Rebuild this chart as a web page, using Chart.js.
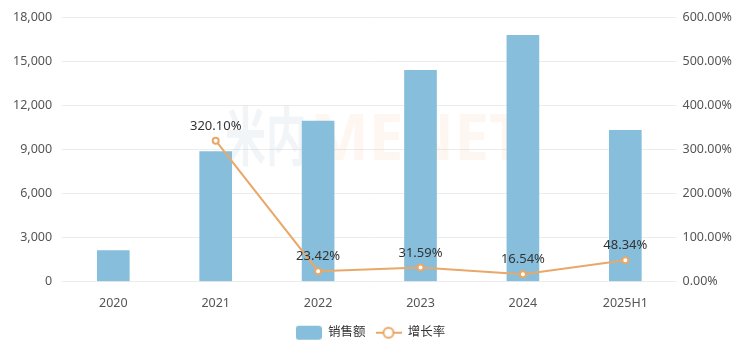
<!DOCTYPE html>
<html>
<head>
<meta charset="utf-8">
<script src="https://cdn.jsdelivr.net/npm/chart.js@4"></script>
<style>
  html, body { margin: 0; padding: 0; background: #fff; }
  #wrap { width: 751px; height: 354px; position: relative; }
</style>
</head>
<body>
<div id="wrap"><canvas id="myChart"></canvas></div>
<script>
// 数据
const years = ['2020', '2021', '2022', '2023', '2024', '2025H1'];
const sales = [2110, 8865, 10940, 14395, 16776, 10300];
const growth = [null, 320.10, 23.42, 31.59, 16.54, 48.34];
const leftTicks = [0, 3000, 6000, 9000, 12000, 15000, 18000];
const rightTicks = [0, 100, 200, 300, 400, 500, 600];

const barColor = '#86bedb';
const lineColor = '#e9a867';
const font = '"Noto Sans", "Noto Sans CJK SC", sans-serif';

// 图例图标
function makeIcon(type) {
    const c = document.createElement('canvas');
    c.width = 26; c.height = 16;
    const g = c.getContext('2d');
    if (type === 'bar') {
        g.fillStyle = barColor;
        g.beginPath();
        g.roundRect(0, 1, 26, 14, 3);
        g.fill();
    } else {
        g.strokeStyle = lineColor;
        g.lineWidth = 2;
        g.beginPath();
        g.moveTo(0, 8); g.lineTo(26, 8);
        g.stroke();
        g.fillStyle = '#fff';
        g.beginPath();
        g.arc(13, 8, 5, 0, Math.PI * 2);
        g.fill();
        g.stroke();
    }
    return c;
}

// 数据标签 + 水印
const extras = {
    id: 'extras',
    beforeDatasetsDraw(chart) {
        const ctx = chart.ctx;
        ctx.save();
        ctx.font = 'bold 64px ' + font;
        ctx.textBaseline = 'middle';
        ctx.textAlign = 'left';
        ctx.fillStyle = 'rgba(140,175,195,0.12)';
        ctx.fillText('米内', 225, 142, 82);
        ctx.fillStyle = 'rgba(245,170,120,0.1)';
        ctx.fillText('MENET', 310, 142, 215);
        ctx.restore();
    },
    afterDatasetsDraw(chart) {
        const ctx = chart.ctx;
        const meta = chart.getDatasetMeta(1);
        ctx.save();
        ctx.font = '13px ' + font;
        ctx.fillStyle = '#333';
        ctx.textAlign = 'center';
        ctx.textBaseline = 'bottom';
        meta.data.forEach((pt, i) => {
            if (growth[i] == null) return;
            ctx.fillText(growth[i].toFixed(2) + '%', pt.x, pt.y - 8);
        });
        ctx.restore();
    }
};

const ctx = document.getElementById('myChart').getContext('2d');
const myChart = new Chart(ctx, {
    type: 'bar',
    data: {
        labels: years,
        datasets: [{
            type: 'bar',
            label: '销售额',
            data: sales,
            backgroundColor: barColor,
            barThickness: 32,
            yAxisID: 'y',
            order: 2
        }, {
            type: 'line',
            label: '增长率',
            data: growth,
            borderColor: lineColor,
            borderWidth: 2,
            pointBackgroundColor: '#fff',
            pointBorderColor: lineColor,
            pointBorderWidth: 2,
            pointRadius: 3,
            spanGaps: false,
            tension: 0,
            yAxisID: 'y1',
            order: 1
        }]
    },
    options: {
        responsive: true,
        maintainAspectRatio: false,
        animation: false,
        layout: { padding: { top: 10, left: 3, right: 13, bottom: 5 } },
        plugins: {
            tooltip: { enabled: false },
            legend: {
                position: 'bottom',
                labels: {
                    usePointStyle: true,
                    pointStyleWidth: 26,
                    padding: 10,
                    font: { family: font, size: 12.5 },
                    color: '#333',
                    generateLabels: function(chart) {
                        return chart.data.datasets.map((ds, i) => ({
                            text: ds.label,
                            pointStyle: makeIcon(i === 0 ? 'bar' : 'line'),
                            datasetIndex: i,
                            hidden: false,
                            fontColor: '#333'
                        }));
                    }
                }
            }
        },
        scales: {
            x: {
                grid: { display: false },
                border: { display: false },
                ticks: { color: '#555', font: { family: font, size: 12.5 }, padding: 6 }
            },
            y: {
                position: 'left',
                min: 0,
                max: 18000,
                afterBuildTicks: axis => { axis.ticks = leftTicks.map(v => ({ value: v })); },
                grid: { color: '#ececec', drawTicks: false },
                border: { display: false },
                ticks: {
                    color: '#555',
                    padding: 10,
                    font: { family: font, size: 12.5 },
                    callback: v => v.toLocaleString('en-US')
                }
            },
            y1: {
                position: 'right',
                min: 0,
                max: 600,
                afterBuildTicks: axis => { axis.ticks = rightTicks.map(v => ({ value: v })); },
                grid: { display: false, drawTicks: false },
                border: { display: false },
                ticks: {
                    color: '#555',
                    padding: 6,
                    font: { family: font, size: 12.5 },
                    callback: v => v.toFixed(2) + '%'
                }
            }
        }
    },
    plugins: [extras]
});
</script>
</body>
</html>
